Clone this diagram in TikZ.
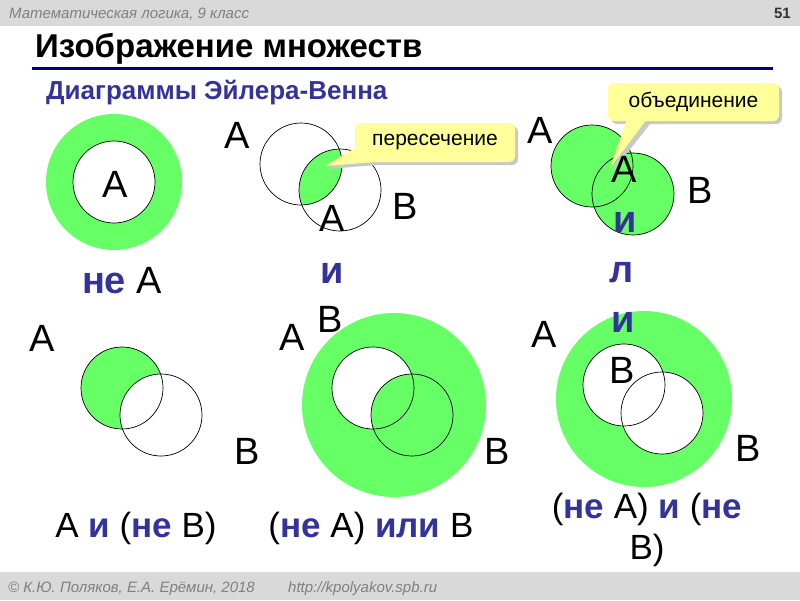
\documentclass[tikz,border=0pt]{standalone}
\usepackage{fontspec}
\setmainfont{Liberation Sans}
\usetikzlibrary{calc}
\definecolor{vgreen}{RGB}{102,255,102}
\definecolor{vblue}{RGB}{51,51,153}
\definecolor{navyline}{RGB}{0,0,128}
\definecolor{hdr}{RGB}{217,217,217}
\definecolor{hdrtxt}{RGB}{128,128,128}
\definecolor{callout}{RGB}{255,255,153}
\definecolor{shadowc}{RGB}{200,200,200}
\newcommand\kwd[1]{\textcolor{vblue}{\bfseries #1}}
\begin{document}
\begin{tikzpicture}[x=1pt,y=-1pt,
  circ/.style={draw=black,line width=0.7pt},
  big/.style={font=\fontsize{38}{40}\selectfont,inner sep=0pt,anchor=base},
  capt/.style={font=\fontsize{35}{38}\selectfont,inner sep=0pt,anchor=base},
  bubble/.style={fill=callout,rounded corners=6pt,inner sep=0pt,font=\fontsize{21}{24}\selectfont},
  hdrtext/.style={font=\itshape\fontsize{15}{16}\selectfont,text=hdrtxt,inner sep=0pt,anchor=base west},
]
\useasboundingbox (0,0) rectangle (800,600);
\fill[white] (0,0) rectangle (800,600);

% header and footer
\fill[hdr] (0,0) rectangle (800,26);
\fill[hdr] (0,572) rectangle (800,600);
\node[hdrtext] (hdrL) at (9,18) {Математическая логика, 9 класс};
\node[font=\bfseries\fontsize{15}{16}\selectfont,text=black!80,inner sep=0pt,anchor=base east] (pnum) at (791,18) {51};
\node[hdrtext] (ftrL) at (8,592) {© К.Ю. Поляков, Е.А. Ерёмин, 2018};
\node[hdrtext] (ftrR) at (288,592) {http://kpolyakov.spb.ru};

% title
\node[font=\bfseries\fontsize{33}{35}\selectfont,inner sep=0pt,anchor=base west] (title) at (35,57) {Изображение множеств};
\coordinate (lineL) at (32,68);
\coordinate (lineR) at (773,68);
\draw[navyline,line width=3pt] (lineL) -- (lineR);
\node[font=\bfseries\fontsize{26}{28}\selectfont,text=vblue,inner sep=0pt,anchor=base west] (subtitle) at (46,99) {Диаграммы Эйлера-Венна};

% D1: not A
\fill[vgreen] (114,182) circle (68);
\draw[circ,fill=white] (114,182) circle (41);

% D2: A and B
\begin{scope}
  \clip (301,164) circle (41);
  \fill[vgreen] (340,190) circle (41);
\end{scope}
\draw[circ] (301,164) circle (41);
\draw[circ] (340,190) circle (41);

% D3: A or B
\fill[vgreen] (592,166) circle (41);
\fill[vgreen] (633,194) circle (41);
\draw[circ] (592,166) circle (41);
\draw[circ] (633,194) circle (41);

% D4: A and not B
\fill[vgreen] (122,388) circle (41);
\fill[white] (161,415) circle (41);
\draw[circ] (122,388) circle (41);
\draw[circ] (161,415) circle (41);

% D5: (not A) or B
\fill[vgreen] (394,405) circle (92);
\fill[white] (373,388) circle (41);
\fill[vgreen] (412,415) circle (41);
\draw[circ] (373,388) circle (41);
\draw[circ] (412,415) circle (41);

% D6: (not A) and (not B)
\fill[vgreen] (644,399) circle (88);
\fill[white] (624,385) circle (41);
\fill[white] (662,413) circle (41);
\draw[circ] (624,385) circle (41);
\draw[circ] (662,413) circle (41);

% callout 1
\fill[shadowc,rounded corners=6pt] (358,126) rectangle (518,165);
\fill[shadowc] (358,151) -- (376,165) -- (328,169) -- cycle;
\node[bubble,minimum width=160pt,minimum height=39pt] (c1) at (435,142.5) {пересечение};
\coordinate (c1tip) at (325,166);
\fill[callout] ($(c1.south west)+(0,-14)$) -- ($(c1.south west)+(18,0)$) -- (c1tip) -- cycle;

% callout 2
\fill[shadowc,rounded corners=6pt] (611,86) rectangle (782,124);
\fill[shadowc] (630,124) -- (650,124) -- (613,171) -- cycle;
\node[bubble,minimum width=171pt,minimum height=38pt] (c2) at (693.5,102) {объединение};
\coordinate (c2tip) at (610,168);
\fill[callout] ($(c2.south west)+(19,-2)$) -- ($(c2.south west)+(39,-2)$) -- (c2tip) -- cycle;

% labels
\node[big] (d1A) at (115,197) {A};
\node[big] (d1cap) at (122,293) {\kwd{не} A};
\node[big] (d2A) at (237,148) {A};
\node[big] (d2B) at (405,219) {B};
\node[big] (d3A) at (540,143) {A};
\node[big] (d3B) at (700,203) {B};
\node[big] (d4A) at (42,351) {A};
\node[big] (d4B) at (247,464) {B};
\node[big] (d5A) at (292,350) {A};
\node[big] (d5B) at (497,464) {B};
\node[big] (d6A) at (544,347) {A};
\node[big] (d6B) at (748,461) {B};

% wrapped "A и B"
\node[big] (s1a) at (332,231) {A};
\node[big] (s1b) at (332,283) {\kwd{и}};
\node[big] (s1c) at (330,332) {B};

% wrapped "A или B"
\node[big] (s2a) at (624,182) {A};
\node[big] (s2b) at (625,232) {\kwd{и}};
\node[big] (s2c) at (622,282) {\kwd{л}};
\node[big] (s2d) at (623,332) {\kwd{и}};
\node[big] (s2e) at (622,383) {B};

% captions
\node[capt] (cap4) at (136,537) {A \kwd{и} (\kwd{не} B)};
\node[capt] (cap5) at (371,537) {(\kwd{не} A) \kwd{или} B};
\node[capt] (cap6a) at (647,518) {(\kwd{не} A) \kwd{и} (\kwd{не}};
\node[capt] (cap6b) at (647,559) {B)};
\end{tikzpicture}
\end{document}
